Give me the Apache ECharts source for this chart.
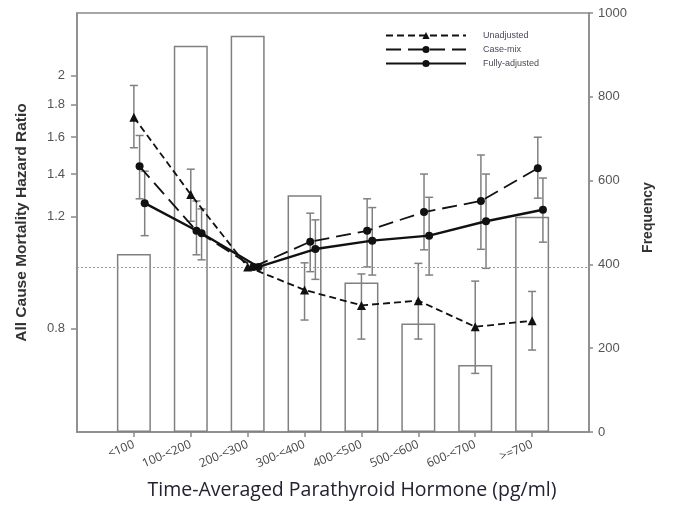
<!DOCTYPE html>
<html>
<head>
<meta charset="utf-8">
<script src="https://cdn.jsdelivr.net/npm/echarts@6/dist/echarts.min.js"></script>
<style>html,body{margin:0;padding:0;background:#fff;}#c{width:678px;height:508px;}</style>
</head>
<body>
<div id="c"></div>
<script>
var categories = ['<100','100-<200','200-<300','300-<400','400-<500','500-<600','600-<700','>=700'];
var frequency = [425, 922, 946, 565, 357, 259, 160, 514];

var unadjusted   = [1.72, 1.30, 1.00, 0.92, 0.87, 0.885, 0.805, 0.823];
var unadjustedLo = [1.54, 1.18, null, 0.825, 0.77, 0.77, 0.68, 0.74];
var unadjustedHi = [1.93, 1.425, null, 1.015, 0.975, 1.013, 0.95, 0.915];

var casemix   = [1.44, 1.14, 1.00, 1.096, 1.14, 1.22, 1.27, 1.43];
var casemixLo = [1.28, 1.045, null, 0.983, 1.00, 1.064, 1.066, 1.283];
var casemixHi = [1.61, 1.27, null, 1.215, 1.28, 1.40, 1.50, 1.60];

var fully   = [1.26, 1.13, 1.00, 1.067, 1.10, 1.12, 1.18, 1.23];
var fullyLo = [1.12, 1.026, null, 0.956, 0.971, 0.971, 0.995, 1.094];
var fullyHi = [1.415, 1.234, null, 1.186, 1.24, 1.287, 1.40, 1.38];

var hrTicks = [0.8, 1.2, 1.4, 1.6, 1.8, 2];
var freqTicks = [0, 200, 400, 600, 800, 1000];

var offsets = [0, 0.1, 0.19];

function pts(vals, off) {
  return vals.map(function (v, i) { return [i + off, Math.log(v)]; });
}
function errs(lo, hi, off) {
  var out = [];
  for (var i = 0; i < lo.length; i++) {
    if (lo[i] != null && hi[i] != null) out.push([i + off, Math.log(lo[i]), Math.log(hi[i])]);
  }
  return out;
}
function errRender(params, api) {
  var x = api.value(0);
  var a = api.coord([x, api.value(1)]);
  var b = api.coord([x, api.value(2)]);
  var w = 4;
  var st = { stroke: '#808080', lineWidth: 1.5 };
  return {
    type: 'group',
    children: [
      { type: 'line', shape: { x1: a[0], y1: a[1], x2: b[0], y2: b[1] }, style: st },
      { type: 'line', shape: { x1: a[0] - w, y1: a[1], x2: a[0] + w, y2: a[1] }, style: st },
      { type: 'line', shape: { x1: b[0] - w, y1: b[1], x2: b[0] + w, y2: b[1] }, style: st }
    ]
  };
}

var chart = echarts.init(document.getElementById('c'), null, { renderer: 'canvas' });
var axisGray = '#8a8a8a';
var option = {
  animation: false,
  backgroundColor: '#fff',
  grid: { left: 77, right: 89, top: 13, bottom: 76, show: true, borderColor: axisGray, borderWidth: 1.5, containLabel: false },
  legend: {
    data: ['Unadjusted', 'Case-mix', 'Fully-adjusted'],
    orient: 'vertical',
    left: 385, top: 31,
    itemWidth: 80, itemHeight: 9, itemGap: 5,
    padding: 0,
    textStyle: { fontFamily: 'Liberation Sans, Arial', fontSize: 9, color: '#4a4a5a', padding: [0, 0, 0, 12] }
  },
  xAxis: {
    type: 'value', min: -1, max: 8,
    splitLine: { show: false },
    axisLine: { onZero: false, lineStyle: { color: axisGray, width: 1.5 } },
    axisTick: { customValues: [0,1,2,3,4,5,6,7], length: 5, lineStyle: { color: axisGray, width: 1.5 } },
    axisLabel: {
      customValues: [0,1,2,3,4,5,6,7],
      rotate: 23, margin: 12,
      fontFamily: 'Open Sans, Lato, sans-serif', fontSize: 12, color: '#444',
      formatter: function (v) { return categories[Math.round(v)]; }
    },
    name: 'Time-Averaged Parathyroid Hormone (pg/ml)',
    nameLocation: 'middle', nameGap: 48,
    nameTextStyle: { fontFamily: 'Open Sans, Lato, sans-serif', fontSize: 19.5, color: '#222230', padding: [0, 0, 0, 38] }
  },
  yAxis: [
    {
      type: 'value', min: -0.598, max: 0.920,
      splitLine: { show: false },
      axisLine: { show: true, onZero: false, lineStyle: { color: axisGray, width: 1.5 } },
      axisTick: { customValues: hrTicks.map(Math.log), length: 6, lineStyle: { color: axisGray, width: 1.5 } },
      axisLabel: {
        customValues: hrTicks.map(Math.log), margin: 12,
        fontFamily: 'Liberation Sans, Arial', fontSize: 13, color: '#555',
        formatter: function (v) { return String(Math.round(Math.exp(v) * 10) / 10); }
      },
      name: 'All Cause Mortality Hazard Ratio',
      nameLocation: 'middle', nameGap: 47,
      nameTextStyle: { fontFamily: 'Liberation Sans, Arial', fontSize: 15.5, fontWeight: 'bold', color: '#333' }
    },
    {
      type: 'value', min: 0, max: 1000, interval: 200, position: 'right',
      splitLine: { show: false },
      axisLine: { show: true, onZero: false, lineStyle: { color: axisGray, width: 1.5 } },
      axisTick: { show: true, length: 4, lineStyle: { color: axisGray, width: 1.5 } },
      axisLabel: { margin: 9, fontFamily: 'Liberation Sans, Arial', fontSize: 13, color: '#555',
        formatter: function (v) { return String(v); } },
      name: 'Frequency',
      nameLocation: 'middle', nameGap: 52, nameRotate: 90,
      nameTextStyle: { fontFamily: 'Liberation Sans, Arial', fontSize: 14, fontWeight: 'bold', color: '#333', padding: [0, 0, 0, 10] }
    }
  ],
  series: [
    {
      name: 'Frequency', type: 'bar', yAxisIndex: 1, barWidth: 34, z: 1,
      data: frequency.map(function (v, i) { return [i, v]; }),
      itemStyle: { color: 'rgba(255,255,255,0)', borderColor: '#808080', borderWidth: 1.5 }
    },
    { name: 'errU', type: 'custom', renderItem: errRender, data: errs(unadjustedLo, unadjustedHi, offsets[0]), encode: { x: 0, y: [1, 2] }, z: 3 },
    { name: 'errC', type: 'custom', renderItem: errRender, data: errs(casemixLo, casemixHi, offsets[1]), encode: { x: 0, y: [1, 2] }, z: 3 },
    { name: 'errF', type: 'custom', renderItem: errRender, data: errs(fullyLo, fullyHi, offsets[2]), encode: { x: 0, y: [1, 2] }, z: 3 },
    {
      name: 'Unadjusted', type: 'line', z: 5,
      data: pts(unadjusted, offsets[0]),
      symbol: 'triangle', symbolSize: 9,
      lineStyle: { color: '#111', width: 1.8, type: [7, 4] },
      itemStyle: { color: '#111' }
    },
    {
      name: 'Case-mix', type: 'line', z: 5,
      data: pts(casemix, offsets[1]),
      symbol: 'circle', symbolSize: 8,
      lineStyle: { color: '#111', width: 1.8, type: [15, 7] },
      itemStyle: { color: '#111' }
    },
    {
      name: 'Fully-adjusted', type: 'line', z: 5,
      data: pts(fully, offsets[2]),
      symbol: 'circle', symbolSize: 8,
      lineStyle: { color: '#111', width: 2.4 },
      itemStyle: { color: '#111' }
    },
    {
      name: 'ref', type: 'line', yAxisIndex: 0, z: 2, silent: true,
      data: [], symbol: 'none',
      markLine: {
        silent: true, symbol: 'none', label: { show: false },
        lineStyle: { color: '#999', type: [2, 2], width: 1 },
        data: [{ yAxis: 0 }]
      }
    }
  ]
};
chart.setOption(option);
</script>
</body>
</html>
